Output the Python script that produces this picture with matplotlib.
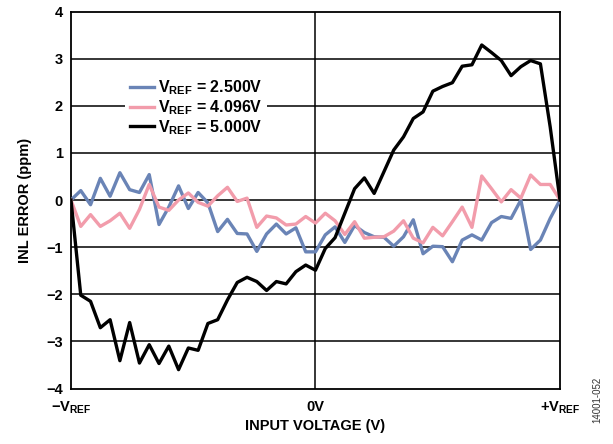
import matplotlib.pyplot as plt
import numpy as np

plt.rcParams["font.family"] = "Liberation Sans"
plt.rcParams["mathtext.fontset"] = "custom"
plt.rcParams["mathtext.rm"] = "Liberation Sans:bold"
plt.rcParams["mathtext.bf"] = "Liberation Sans:bold"
plt.rcParams["mathtext.it"] = "Liberation Sans:bold"

# input voltage as fraction of VREF, 51 codes from -VREF to +VREF
x = np.linspace(-1, 1, 51)

vref_2500 = [
    0.0, 0.2, -0.1, 0.46, 0.08, 0.58, 0.22, 0.16, 0.54, -0.52,
    -0.15, 0.3, -0.18, 0.16, -0.06, -0.67, -0.41, -0.71, -0.72, -1.09,
    -0.72, -0.51, -0.72, -0.59, -1.1, -1.1, -0.74, -0.57, -0.9, -0.54,
    -0.69, -0.78, -0.79, -0.98, -0.78, -0.42, -1.14, -0.98, -0.99, -1.31,
    -0.85, -0.74, -0.85, -0.48, -0.35, -0.39, 0.0, -1.05, -0.85, -0.39,
    0.0,
]
vref_4096 = [
    0.0, -0.56, -0.31, -0.56, -0.44, -0.28, -0.6, -0.2, 0.33, -0.15,
    -0.22, 0.0, 0.15, -0.05, -0.13, 0.09, 0.27, -0.03, 0.04, -0.58,
    -0.34, -0.38, -0.53, -0.51, -0.35, -0.49, -0.28, -0.44, -0.73, -0.46,
    -0.81, -0.79, -0.78, -0.66, -0.44, -0.81, -0.91, -0.58, -0.76, -0.46,
    -0.15, -0.58, 0.51, 0.24, -0.04, 0.22, 0.04, 0.53, 0.33, 0.33,
    0.0,
]
vref_5000 = [
    0.0, -2.02, -2.15, -2.71, -2.54, -3.41, -2.6, -3.46, -3.07, -3.47,
    -3.1, -3.6, -3.14, -3.19, -2.62, -2.54, -2.12, -1.75, -1.64, -1.73,
    -1.92, -1.73, -1.78, -1.52, -1.38, -1.49, -1.03, -0.8, -0.28, 0.24,
    0.47, 0.14, 0.6, 1.06, 1.34, 1.73, 1.87, 2.31, 2.41, 2.49,
    2.84, 2.87, 3.29, 3.13, 2.96, 2.64, 2.83, 2.96, 2.89, 1.55,
    0.0,
]

series = [
    (vref_2500, "#6a84b6", r"$\mathbf{V_{REF}}$ = 2.500V"),
    (vref_4096, "#f29cab", r"$\mathbf{V_{REF}}$ = 4.096V"),
    (vref_5000, "#000000", r"$\mathbf{V_{REF}}$ = 5.000V"),
]

fig = plt.figure(figsize=(6.13, 4.44), dpi=100)
ax = fig.add_axes([0.1158, 0.125, 0.7977, 0.849])

for y in range(-3, 4):
    ax.axhline(y, color="black", lw=1.1, zorder=1)
ax.axvline(0, color="black", lw=1.1, zorder=1)

for vals, color, label in series:
    ax.plot(x, vals, color=color, lw=2.4, label=label, zorder=3)

ax.set_xlim(-1, 1)
ax.set_ylim(-4, 4)
ax.set_yticks(range(-4, 5))
ax.set_xticks([-1, 0, 1])
ax.set_xticklabels([r"$\mathbf{-V_{REF}}$", "0V", r"$\mathbf{+V_{REF}}$"])
ax.tick_params(length=0, labelsize=10.5, pad=6)
for lbl in ax.get_yticklabels() + ax.get_xticklabels():
    lbl.set_fontweight("bold")
ax.tick_params(axis="x", pad=8)
for sp in ax.spines.values():
    sp.set_linewidth(1.3)

ax.set_xlabel("INPUT VOLTAGE (V)", fontsize=10.5, fontweight="bold", labelpad=2)
ax.set_ylabel("INL ERROR (ppm)", fontsize=10.5, fontweight="bold", labelpad=10)

leg = ax.legend(loc="upper left", bbox_to_anchor=(0.095, 0.856), fontsize=11.5,
                frameon=True, fancybox=False, handlelength=1.5,
                handletextpad=0.25, labelspacing=0.06, borderpad=0.3)
leg.get_frame().set_facecolor("white")
leg.get_frame().set_edgecolor("none")
leg.get_frame().set_alpha(1)
leg.set_zorder(2)
for t in leg.get_texts():
    t.set_fontweight("bold")

fig.text(0.975, 0.1, "14001-052", rotation=90, fontsize=7, color="#333333",
         ha="center", va="center")

fig.savefig("out.png", dpi=100)
